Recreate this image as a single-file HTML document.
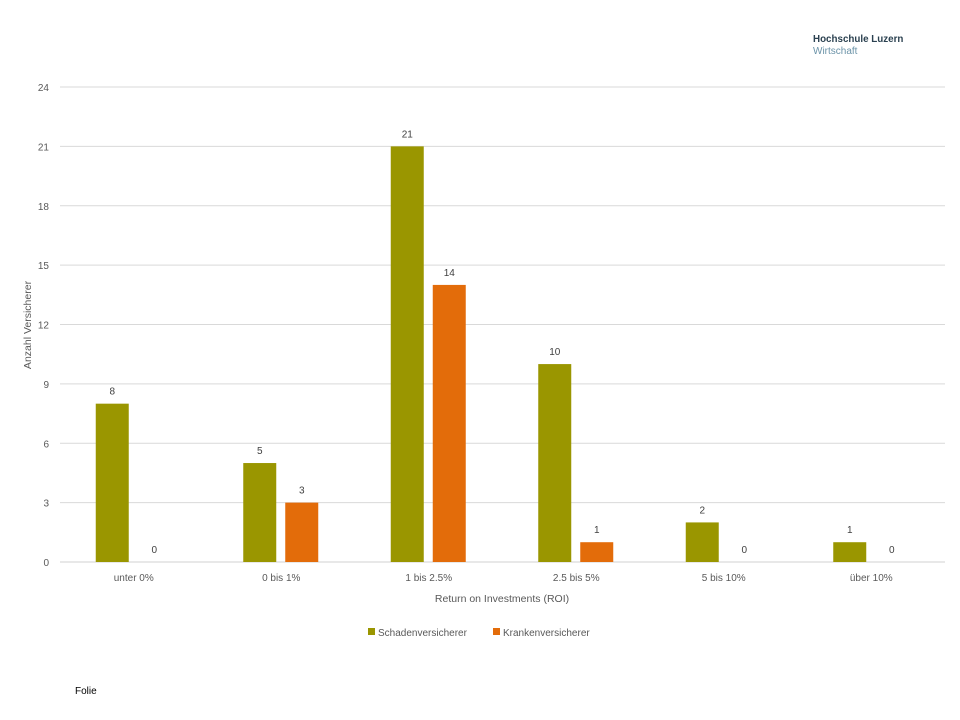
<!DOCTYPE html>
<html><head><meta charset="utf-8"><style>
body{margin:0;background:#fff;width:960px;height:720px;overflow:hidden;font-family:"Liberation Sans",sans-serif;}
</style></head><body>
<svg width="960" height="720" style="position:absolute;left:0;top:0">
<text x="813" y="42" font-size="9.8" font-weight="bold" fill="#2b4150">Hochschule Luzern</text>
<text x="813" y="54" font-size="10" fill="#6b93a8">Wirtschaft</text>
<text x="75" y="694" font-size="10" fill="#000">Folie</text>
<g id="grid"></g><g id="bars"></g><g id="labels"></g>
<text x="502" y="602" text-anchor="middle" font-size="10.5" fill="#595959">Return on Investments (ROI)</text>
<text transform="translate(31,325) rotate(-90)" text-anchor="middle" font-size="10.5" fill="#595959">Anzahl Versicherer</text>
<rect x="368" y="628" width="7" height="7" fill="#9a9600"/>
<text x="378" y="636" font-size="10" fill="#595959">Schadenversicherer</text>
<rect x="493" y="628" width="7" height="7" fill="#e36c0a"/>
<text x="503" y="636" font-size="10" fill="#595959">Krankenversicherer</text>
</svg>
<script>
const categories=["unter 0%","0 bis 1%","1 bis 2.5%","2.5 bis 5%","5 bis 10%","über 10%"];
const schaden=[8,5,21,10,2,1];
const kranken=[0,3,14,1,0,0];
const yTicks=[0,3,6,9,12,15,18,21,24];
const NS="http://www.w3.org/2000/svg";
const x0=60,x1=945,y0=562,y1=87,yMax=24;
const cw=(x1-x0)/categories.length;
const yS=v=>y0-(v/yMax)*(y0-y1);
const xC=i=>x0+cw*(i+0.5);
function mk(t,a,p){const e=document.createElementNS(NS,t);for(const k in a)e.setAttribute(k,a[k]);document.getElementById(p).appendChild(e);return e;}
yTicks.forEach(v=>{
  const l=mk('line',{x1:x0,x2:x1,y1:yS(v),y2:yS(v),stroke:v===0?'#d0d0d0':'#d9d9d9','stroke-width':1},'grid');
  
  
  const t=mk('text',{x:49,y:yS(v)+4,'text-anchor':'end','font-size':10,fill:'#595959'},'grid');
  t.textContent=v;
  
  
});
categories.forEach((c,i)=>{
  const t=mk('text',{x:xC(i),y:581,'text-anchor':'middle','font-size':10,fill:'#595959'},'labels');
  t.textContent=c;
  
  
  [[schaden,'#9a9600',-38],[kranken,'#e36c0a',4]].forEach(([s,col,off],k)=>{
    const v=s[i],bx=xC(i)+off,bw=33;
    const r=mk('rect',{x:bx,y:yS(v),width:bw,height:y0-yS(v),fill:col},'bars');
    
    
    const lt=mk('text',{x:bx+bw/2,y:yS(v)-9,'text-anchor':'middle','font-size':10,fill:'#404040'},'labels');
    lt.textContent=v;
    
    
  });
});
</script>
</body></html>
